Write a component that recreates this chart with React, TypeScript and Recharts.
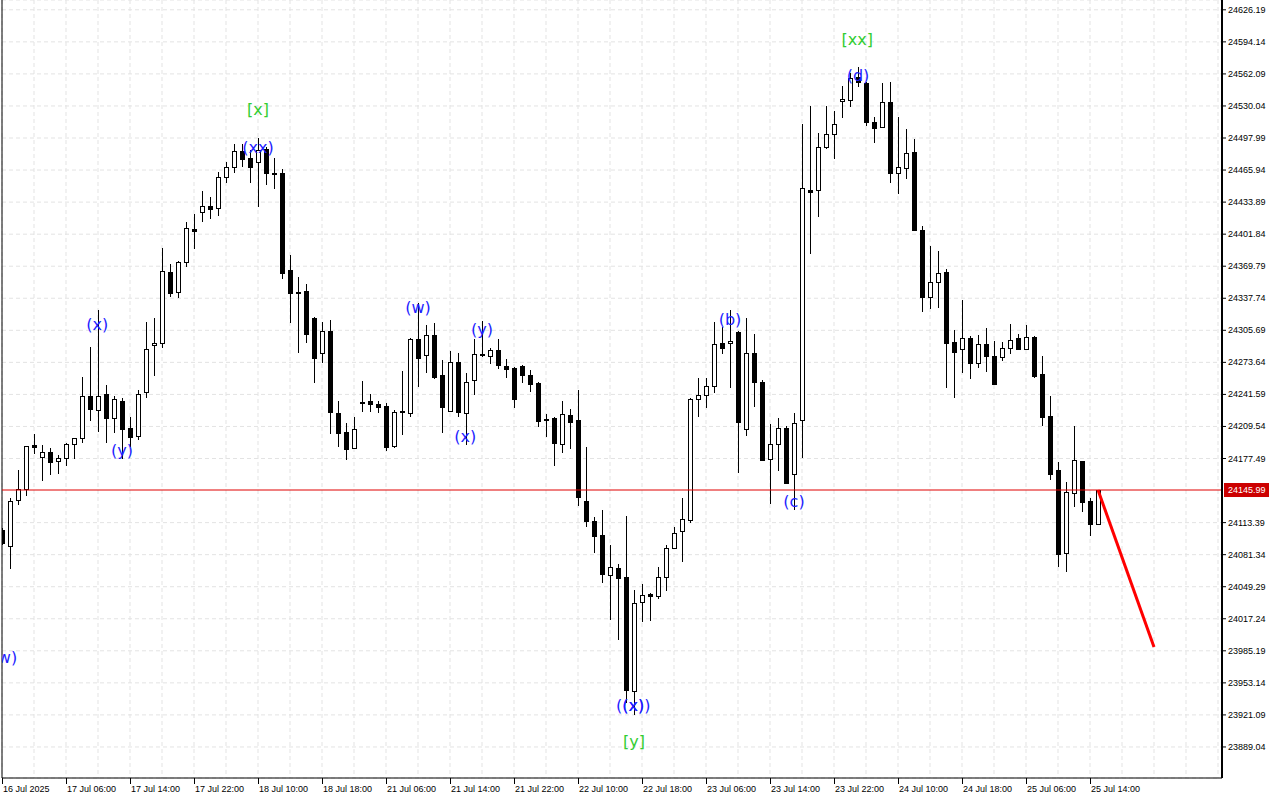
import React from "react";
import { Bar, CartesianGrid, ComposedChart, ReferenceLine, Scatter, XAxis, YAxis } from "recharts";

// hourly bars
const opens = [
  24106, 24090, 24136, 24147, 24191, 24179, 24184, 24175, 24178, 24192, 24198, 24240, 24226, 24242, 24218, 24235,
  24208, 24200, 24244, 24291, 24293, 24364, 24344, 24374, 24407, 24424, 24430, 24428, 24459, 24469, 24485, 24478,
  24474, 24487, 24463, 24463, 24366, 24344, 24345, 24318, 24283, 24305, 24223, 24204, 24188, 24234, 24235, 24232,
  24230, 24190, 24224, 24223, 24297, 24281, 24301, 24261, 24225, 24274, 24223, 24256, 24282, 24280, 24286, 24270,
  24268, 24270, 24261, 24253, 24217, 24218, 24192, 24221, 24216, 24135, 24115, 24101, 24061, 24068, 24059, 23945,
  24034, 24042, 24040, 24059, 24088, 24105, 24116, 24237, 24241, 24250, 24293, 24293, 24304, 24207, 24283, 24254,
  24177, 24192, 24208, 24162, 24216, 24446, 24446, 24489, 24502, 24535, 24536, 24559, 24553, 24514, 24509, 24534,
  24463, 24468, 24484, 24406, 24339, 24354, 24364, 24294, 24287, 24298, 24273, 24292, 24280, 24279, 24288, 24298,
  24287, 24299, 24262, 24220, 24166, 24083, 24143, 24175, 24135, 24112,
];
const highs = [
  24108, 24138, 24166, 24190, 24202, 24191, 24188, 24181, 24193, 24198, 24259, 24289, 24326, 24251, 24240, 24238,
  24219, 24246, 24314, 24318, 24388, 24372, 24375, 24414, 24422, 24445, 24439, 24464, 24474, 24492, 24492, 24486,
  24498, 24489, 24478, 24467, 24381, 24359, 24352, 24319, 24314, 24316, 24235, 24213, 24219, 24255, 24242, 24235,
  24233, 24226, 24265, 24298, 24333, 24311, 24313, 24276, 24285, 24283, 24263, 24297, 24315, 24288, 24297, 24277,
  24269, 24271, 24266, 24254, 24222, 24219, 24235, 24227, 24246, 24189, 24119, 24126, 24091, 24072, 24120, 24046,
  24052, 24043, 24069, 24091, 24109, 24138, 24238, 24258, 24258, 24314, 24309, 24326, 24305, 24318, 24302, 24256,
  24212, 24218, 24210, 24223, 24512, 24530, 24503, 24530, 24525, 24550, 24563, 24569, 24554, 24519, 24553, 24554,
  24519, 24507, 24497, 24410, 24390, 24385, 24367, 24306, 24336, 24300, 24301, 24308, 24295, 24294, 24312, 24302,
  24311, 24300, 24280, 24240, 24174, 24154, 24210, 24175, 24138, 24146,
];
const lows = [
  24091, 24067, 24131, 24140, 24182, 24155, 24161, 24162, 24170, 24177, 24193, 24215, 24204, 24193, 24203, 24177,
  24189, 24196, 24238, 24260, 24288, 24339, 24338, 24369, 24387, 24414, 24417, 24420, 24453, 24463, 24469, 24453,
  24429, 24451, 24447, 24357, 24313, 24283, 24293, 24253, 24273, 24202, 24189, 24176, 24188, 24224, 24224, 24223,
  24185, 24188, 24201, 24219, 24249, 24263, 24257, 24203, 24224, 24219, 24191, 24241, 24279, 24272, 24267, 24258,
  24228, 24253, 24244, 24209, 24199, 24170, 24183, 24187, 24130, 24109, 24083, 24053, 24016, 23996, 23933, 23921,
  24014, 24015, 24037, 24045, 24087, 24074, 24113, 24219, 24228, 24243, 24282, 24248, 24163, 24200, 24229, 24175,
  24132, 24165, 24152, 24126, 24178, 24382, 24419, 24487, 24477, 24518, 24529, 24549, 24510, 24493, 24508, 24453,
  24442, 24457, 24405, 24324, 24327, 24328, 24248, 24238, 24263, 24257, 24268, 24264, 24251, 24275, 24282, 24287,
  24287, 24258, 24210, 24156, 24069, 24064, 24129, 24124, 24100, 24112,
];
const closes = [
  24093, 24135, 24147, 24190, 24189, 24184, 24174, 24178, 24192, 24198, 24240, 24227, 24240, 24218, 24237, 24207,
  24199, 24242, 24287, 24293, 24365, 24343, 24374, 24408, 24405, 24430, 24427, 24459, 24469, 24485, 24477, 24469,
  24486, 24463, 24462, 24363, 24343, 24343, 24302, 24278, 24305, 24224, 24203, 24187, 24207, 24234, 24232, 24229,
  24189, 24224, 24225, 24297, 24278, 24301, 24259, 24229, 24274, 24224, 24254, 24282, 24281, 24286, 24271, 24267,
  24237, 24261, 24252, 24215, 24216, 24193, 24222, 24214, 24139, 24115, 24100, 24062, 24069, 24058, 23946, 24033,
  24041, 24040, 24059, 24088, 24103, 24117, 24237, 24241, 24250, 24292, 24288, 24295, 24214, 24283, 24254, 24176,
  24192, 24208, 24153, 24213, 24448, 24444, 24489, 24502, 24512, 24537, 24558, 24554, 24514, 24508, 24534, 24463,
  24469, 24483, 24406, 24339, 24354, 24363, 24293, 24284, 24298, 24273, 24292, 24280, 24252, 24288, 24296, 24287,
  24299, 24260, 24219, 24162, 24082, 24144, 24176, 24134, 24112, 24146,
];

// one label every 8 bars
const timeLabels = [
  "16 Jul 2025", "17 Jul 06:00", "17 Jul 14:00", "17 Jul 22:00", "18 Jul 10:00", "18 Jul 18:00",
  "21 Jul 06:00", "21 Jul 14:00", "21 Jul 22:00", "22 Jul 10:00", "22 Jul 18:00", "23 Jul 06:00",
  "23 Jul 14:00", "23 Jul 22:00", "24 Jul 10:00", "24 Jul 18:00", "25 Jul 06:00", "25 Jul 14:00",
];
const priceTicks = [
  24626.19, 24594.14, 24562.09, 24530.04, 24497.99, 24465.94, 24433.89, 24401.84, 24369.79, 24337.74,
  24305.69, 24273.64, 24241.59, 24209.54, 24177.49, 24113.39, 24081.34, 24049.29, 24017.24, 23985.19,
  23953.14, 23921.09, 23889.04,
];
const lastPrice = 24145.99;
const forecastBars = [137, 144];
const forecastPrices = [24146, 23989];

// wave labels (two are drawn on top of each other, as on the chart)
const waveText = ["(w)", "(x)", "(y)", "[x]", "(xx)", "(w)", "(x)", "(y)", "((x))", "(x)", "[y]", "(b)", "(c)", "[xx]", "(d)"];
const waveBar = [0.3, 11.9, 15, 32, 32, 52, 57.9, 60, 78.9, 78.9, 79, 91, 99, 106.9, 107];
const wavePrice = [23978, 24311, 24185, 24526, 24488, 24328, 24199, 24306, 23930, 23930, 23894, 24316, 24134, 24596, 24560];

const candles = opens.map((o, i) => ({
  k: i,
  open: o,
  high: highs[i],
  low: lows[i],
  close: closes[i],
  range: [lows[i], highs[i]],
}));

const waves = waveText.map((t, i) => ({ k: waveBar[i], p: wavePrice[i], text: t }));

const xTicks: number[] = [];
for (let k = 0; k <= 152; k += 4) xTicks.push(k);

const axisFont = "'Liberation Sans', Arial, sans-serif";

const Candle = (props: any) => {
  const { x, y, width, height, payload } = props;
  if (!payload || !height) return null;
  const { open, close, high, low } = payload;
  const cx = Math.round(x + width / 2);
  const ppu = height / (high - low);
  const yOf = (v: number) => y + (high - v) * ppu;
  const top = Math.round(yOf(Math.max(open, close)));
  const bot = Math.round(yOf(Math.min(open, close)));
  const up = close >= open;
  return (
    <g>
      <line x1={cx + 0.5} x2={cx + 0.5} y1={Math.round(y)} y2={Math.round(y + height)} stroke="#000" strokeWidth={1} />
      {up ? (
        <rect x={cx - 1.5} y={top + 0.5} width={4} height={Math.max(bot - top, 1)} fill="#fff" stroke="#000" strokeWidth={1} />
      ) : (
        <rect x={cx - 2} y={top} width={5} height={Math.max(bot - top, 0) + 1} fill="#000" />
      )}
    </g>
  );
};

const TimeTick = (props: any) => {
  const { x, y, payload } = props;
  const k = payload.value;
  if (k % 8 !== 0) return null;
  const label = timeLabels[k / 8];
  if (!label) return null;
  return (
    <g>
      <line x1={Math.round(x) + 0.5} x2={Math.round(x) + 0.5} y1={y} y2={y + 6} stroke="#000" />
      <text x={x + 1} y={y + 14} fontFamily={axisFont} fontSize={9} fill="#000" textAnchor="start">
        {label}
      </text>
    </g>
  );
};

const PriceTick = (props: any) => {
  const { x, y, payload } = props;
  return (
    <text x={x} y={y} dy={3} fontFamily={axisFont} fontSize={9} fill="#000" textAnchor="start">
      {payload.value.toFixed(2)}
    </text>
  );
};

const PriceTag = (props: any) => {
  const vb = props.viewBox;
  if (!vb) return null;
  const left = vb.x + vb.width + 2;
  return (
    <g>
      <rect x={left} y={vb.y - 7} width={45} height={14} fill="#cc0000" />
      <text x={left + 4} y={vb.y + 3} fontFamily={axisFont} fontSize={9} fill="#fff">
        {lastPrice.toFixed(2)}
      </text>
    </g>
  );
};

const WaveLabel = (props: any) => {
  const { cx, cy, payload } = props;
  const green = payload.text.startsWith("[");
  return (
    <text
      x={cx}
      y={cy}
      dy={5}
      textAnchor="middle"
      fontFamily="'DejaVu Sans', sans-serif"
      fontSize={16}
      fill={green ? "#32cd32" : "#1e1eff"}
    >
      {payload.text}
    </text>
  );
};

export default function App() {
  return (
    <div style={{ width: 1280, height: 800, background: "#fff" }}>
      <style>{"body{margin:0}"}</style>
      <ComposedChart width={1280} height={800} data={candles} margin={{ top: 0, right: 0, bottom: 0, left: 2 }}>
        <CartesianGrid stroke="#e3e3e3" strokeDasharray="4 3" />
        <XAxis
          dataKey="k"
          type="number"
          domain={[0, 152.5]}
          allowDataOverflow
          ticks={xTicks}
          interval={0}
          height={22}
          tickLine={false}
          tickSize={0}
          tickMargin={0}
          tick={<TimeTick />}
          axisLine={{ stroke: "#000" }}
        />
        <YAxis
          orientation="right"
          type="number"
          domain={[23858, 24636]}
          allowDataOverflow
          ticks={priceTicks}
          interval={0}
          width={58}
          tickSize={4}
          tickMargin={2}
          tickLine={{ stroke: "#000" }}
          tick={<PriceTick />}
          axisLine={{ stroke: "#000", strokeWidth: 2 }}
        />
        <ReferenceLine x={0} stroke="#000" />
        <Bar dataKey="range" barSize={6} shape={<Candle />} isAnimationActive={false} />
        <ReferenceLine y={lastPrice} stroke="#e00000" label={<PriceTag />} />
        <ReferenceLine
          segment={[
            { x: forecastBars[0], y: forecastPrices[0] },
            { x: forecastBars[1], y: forecastPrices[1] },
          ]}
          stroke="#ff0000"
          strokeWidth={3}
        />
        <Scatter data={waves} dataKey="p" shape={<WaveLabel />} isAnimationActive={false} />
      </ComposedChart>
    </div>
  );
}
